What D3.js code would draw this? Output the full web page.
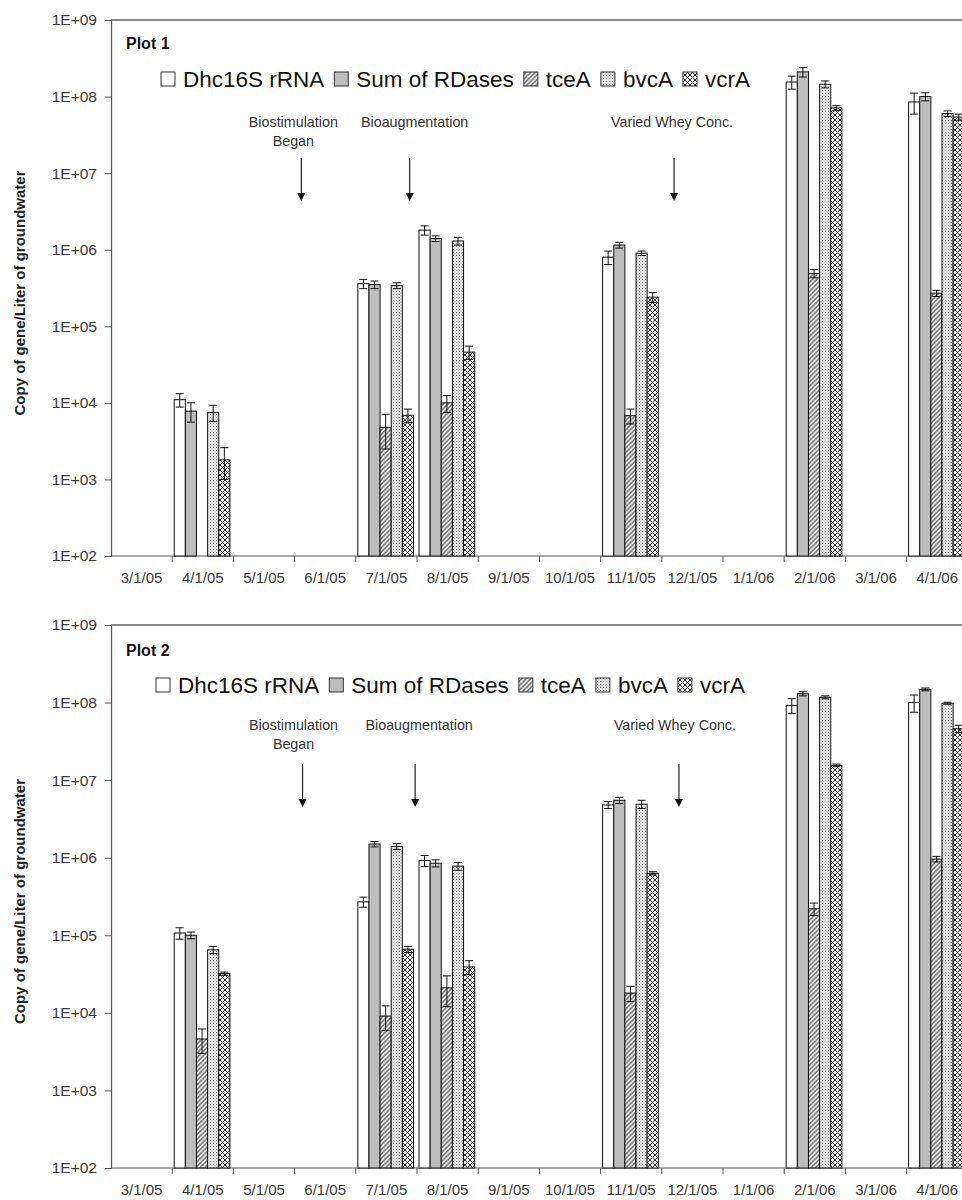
<!DOCTYPE html>
<html>
<head>
<meta charset="utf-8">
<script src="https://cdn.jsdelivr.net/npm/d3@7"></script>
<style>
  body { margin: 0; background: #fff; }
  svg { display: block; font-family: "Liberation Sans", Arial, sans-serif; }
</style>
</head>
<body>
<div id="chart"></div>
<script>
// Data
const months = ['3/1/05', '4/1/05', '5/1/05', '6/1/05', '7/1/05', '8/1/05', '9/1/05',
  '10/1/05', '11/1/05', '12/1/05', '1/1/06', '2/1/06', '3/1/06', '4/1/06']
const sampleDates = ['4/1/05', '7/1/05', '8/1/05', '11/1/05', '2/1/06', '4/1/06']
const seriesNames = ['Dhc16S rRNA', 'Sum of RDases', 'tceA', 'bvcA', 'vcrA']
const yTicks = [1e2, 1e3, 1e4, 1e5, 1e6, 1e7, 1e8, 1e9]

// plot 1
const p1Dhc = [1.1e4, 3.6e5, 1.8e6, 8.0e5, 1.55e8, 8.5e7]
const p1DhcErr = [2.2e3, 5e4, 2.5e5, 1.6e5, 3e7, 2.6e7]
const p1Sum = [7.8e3, 3.5e5, 1.4e6, 1.15e6, 2.1e8, 1.0e8]
const p1SumErr = [2.2e3, 4e4, 1.2e5, 1e5, 3e7, 1.2e7]
const p1Tce = [null, 4.8e3, 1.0e4, 6.8e3, 4.9e5, 2.7e5]
const p1TceErr = [null, 2.3e3, 2.5e3, 1.5e3, 6e4, 2.5e4]
const p1Bvc = [7.5e3, 3.4e5, 1.3e6, 9.0e5, 1.45e8, 6.0e7]
const p1BvcErr = [1.8e3, 3e4, 1.5e5, 6e4, 1.5e7, 5e6]
const p1Vcr = [1.8e3, 6.9e3, 4.6e4, 2.4e5, 7.1e7, 5.4e7]
const p1VcrErr = [8e2, 1.4e3, 9e3, 3.5e4, 5e6, 5e6]

// plot 2
const p2Dhc = [1.07e5, 2.7e5, 9.2e5, 4.8e6, 9.2e7, 1.0e8]
const p2DhcErr = [1.8e4, 4e4, 1.5e5, 5e5, 2e7, 2.5e7]
const p2Sum = [1.0e5, 1.5e6, 8.5e5, 5.5e6, 1.3e8, 1.48e8]
const p2SumErr = [1e4, 1.2e5, 9e4, 5e5, 8e6, 6e6]
const p2Tce = [4.6e3, 9.1e3, 2.1e4, 1.8e4, 2.2e5, 9.6e5]
const p2TceErr = [1.6e3, 3.2e3, 9e3, 4e3, 4e4, 8e4]
const p2Bvc = [6.5e4, 1.4e6, 7.8e5, 4.9e6, 1.17e8, 9.8e7]
const p2BvcErr = [7e3, 1.2e5, 9e4, 6e5, 5e6, 3e6]
const p2Vcr = [3.2e4, 6.6e4, 3.9e4, 6.3e5, 1.55e7, 4.6e7]
const p2VcrErr = [1.5e3, 6e3, 8e3, 3e4, 6e5, 5e6]

// annotations: month band and fraction of the month where the arrow points
const p1Notes = [
  { lines: ['Biostimulation', 'Began'], month: '6/1/05', frac: 0.11 },
  { lines: ['Bioaugmentation'], month: '7/1/05', frac: 0.88 },
  { lines: ['Varied Whey Conc.'], month: '12/1/05', frac: 0.2 }
]
const p2Notes = [
  { lines: ['Biostimulation', 'Began'], month: '6/1/05', frac: 0.13 },
  { lines: ['Bioaugmentation'], month: '7/1/05', frac: 0.97 },
  { lines: ['Varied Whey Conc.'], month: '12/1/05', frac: 0.28 }
]

const plots = [
  { title: 'Plot 1', values: [p1Dhc, p1Sum, p1Tce, p1Bvc, p1Vcr],
    errors: [p1DhcErr, p1SumErr, p1TceErr, p1BvcErr, p1VcrErr], notes: p1Notes },
  { title: 'Plot 2', values: [p2Dhc, p2Sum, p2Tce, p2Bvc, p2Vcr],
    errors: [p2DhcErr, p2SumErr, p2TceErr, p2BvcErr, p2VcrErr], notes: p2Notes }
]

// Dimensions
const width = 962
const height = 1200
const panels = [
  { top: 20, bottom: 556, titleY: 49, legendX: 161, legendY: 79, noteY: 127, arrowTop: 158, arrowBottom: 201, noteShift: [-8, 5, -2] },
  { top: 625, bottom: 1168, titleY: 656, legendX: 156, legendY: 685, noteY: 730, arrowTop: 764, arrowBottom: 807, noteShift: [-9, 4, -4] }
]
const left = 111
const bandW = 61.2

const svg = d3.select('#chart')
  .append('svg')
  .attr('width', width)
  .attr('height', height)

// patterns
const defs = svg.append('defs')

const hatch = defs.append('pattern')
  .attr('id', 'hatch')
  .attr('patternUnits', 'userSpaceOnUse')
  .attr('width', 3.2).attr('height', 3.2)
  .attr('patternTransform', 'rotate(45)')
hatch.append('rect').attr('width', 3.2).attr('height', 3.2).attr('fill', '#e6e6e6')
hatch.append('line').attr('x1', 0.8).attr('x2', 0.8).attr('y1', 0).attr('y2', 3.2)
  .attr('stroke', '#444').attr('stroke-width', 1)

const dots = defs.append('pattern')
  .attr('id', 'dots')
  .attr('patternUnits', 'userSpaceOnUse')
  .attr('width', 3).attr('height', 3)
dots.append('rect').attr('width', 3).attr('height', 3).attr('fill', '#f4f4f4')
dots.append('rect').attr('x', 0).attr('y', 0).attr('width', 1).attr('height', 1).attr('fill', '#6a6a6a')
dots.append('rect').attr('x', 1.5).attr('y', 1.5).attr('width', 1).attr('height', 1).attr('fill', '#8a8a8a')

const cross = defs.append('pattern')
  .attr('id', 'cross')
  .attr('patternUnits', 'userSpaceOnUse')
  .attr('width', 5).attr('height', 5)
cross.append('rect').attr('width', 5).attr('height', 5).attr('fill', '#fff')
cross.append('path').attr('d', 'M0,0L5,5M5,0L0,5')
  .attr('stroke', '#2a2a2a').attr('stroke-width', 1)

const fills = ['#ffffff', '#bdbdbd', 'url(#hatch)', 'url(#dots)', 'url(#cross)']

// scales shared along x
const xScale = d3.scaleBand()
  .domain(months)
  .range([left, left + bandW * months.length])
  .paddingInner(0)
  .paddingOuter(0)

const xSub = d3.scaleBand()
  .domain(seriesNames)
  .range([2, bandW - 3.5])

plots.forEach((plot, pi) => {
  const pn = panels[pi]
  const g = svg.append('g')

  const yScale = d3.scaleLog()
    .domain([1e2, 1e9])
    .range([pn.bottom, pn.top])

  // top border
  g.append('line')
    .attr('x1', left).attr('x2', width)
    .attr('y1', pn.top).attr('y2', pn.top)
    .attr('stroke', '#8a8a8a').attr('stroke-width', 2)

  // y axis
  const yAxis = g.append('g')
    .attr('transform', `translate(${left},0)`)
    .call(d3.axisLeft(yScale)
      .tickValues(yTicks)
      .tickFormat(d => '1E+0' + Math.round(Math.log10(d)))
      .tickSize(6)
      .tickPadding(8))
  yAxis.select('.domain').attr('stroke', '#555').attr('stroke-width', 1.2)
  yAxis.selectAll('.tick line').attr('stroke', '#555')
  yAxis.selectAll('.tick text')
    .attr('font-size', 15.5).attr('fill', '#3a3a3a')
    .style('font-family', '"Liberation Sans", Arial, sans-serif')

  // x axis
  g.append('line')
    .attr('x1', left).attr('x2', width)
    .attr('y1', pn.bottom).attr('y2', pn.bottom)
    .attr('stroke', '#555').attr('stroke-width', 1.2)

  g.selectAll('.xtick')
    .data(months.slice(1))
    .join('line')
    .attr('class', 'xtick')
    .attr('x1', d => xScale(d)).attr('x2', d => xScale(d))
    .attr('y1', pn.bottom).attr('y2', pn.bottom + 6)
    .attr('stroke', '#555')

  g.selectAll('.xlabel')
    .data(months)
    .join('text')
    .attr('class', 'xlabel')
    .attr('x', d => xScale(d) + xScale.bandwidth() / 2)
    .attr('y', pn.bottom + 27)
    .attr('text-anchor', 'middle')
    .attr('font-size', 15)
    .attr('fill', '#3a3a3a')
    .text(d => d)

  // y title
  g.append('text')
    .attr('transform', `translate(25,${(pn.top + pn.bottom) / 2 + 5}) rotate(-90)`)
    .attr('text-anchor', 'middle')
    .attr('font-size', 15)
    .attr('font-weight', 'bold')
    .attr('fill', '#222')
    .text('Copy of gene/Liter of groundwater')

  // plot title
  g.append('text')
    .attr('x', 126).attr('y', pn.titleY)
    .attr('font-size', 16).attr('font-weight', 'bold')
    .attr('fill', '#111')
    .text(plot.title)

  // bars
  const barData = []
  plot.values.forEach((vals, si) => {
    vals.forEach((v, di) => {
      if (v == null) return
      barData.push({ series: seriesNames[si], si, date: sampleDates[di], v, e: plot.errors[si][di] })
    })
  })

  g.selectAll('.bar')
    .data(barData)
    .join('rect')
    .attr('class', 'bar')
    .attr('x', d => xScale(d.date) + xSub(d.series))
    .attr('width', xSub.bandwidth())
    .attr('y', d => yScale(d.v))
    .attr('height', d => pn.bottom - yScale(d.v))
    .attr('fill', d => fills[d.si])
    .attr('stroke', '#111')
    .attr('stroke-width', 1)

  // error bars
  const errG = g.selectAll('.err')
    .data(barData.filter(d => d.e))
    .join('g')
    .attr('class', 'err')
    .attr('stroke', '#111')
    .attr('stroke-width', 1)
  const cx = d => xScale(d.date) + xSub(d.series) + xSub.bandwidth() / 2
  errG.append('line')
    .attr('x1', cx).attr('x2', cx)
    .attr('y1', d => yScale(d.v + d.e))
    .attr('y2', d => yScale(Math.max(d.v - d.e, 1e2)))
  errG.append('line')
    .attr('x1', d => cx(d) - 4).attr('x2', d => cx(d) + 4)
    .attr('y1', d => yScale(d.v + d.e)).attr('y2', d => yScale(d.v + d.e))
  errG.append('line')
    .attr('x1', d => cx(d) - 4).attr('x2', d => cx(d) + 4)
    .attr('y1', d => yScale(Math.max(d.v - d.e, 1e2))).attr('y2', d => yScale(Math.max(d.v - d.e, 1e2)))

  // legend
  const leg = g.append('g')
  let lx = pn.legendX
  seriesNames.forEach((name, si) => {
    leg.append('rect')
      .attr('x', lx).attr('y', pn.legendY - 7)
      .attr('width', 14).attr('height', 14)
      .attr('fill', fills[si])
      .attr('stroke', '#333')
    const t = leg.append('text')
      .attr('x', lx + 22).attr('y', pn.legendY + 8)
      .attr('font-size', 22.5)
      .attr('fill', '#111')
      .text(name)
    lx += 22 + t.node().getComputedTextLength() + 10
  })

  // annotations
  plot.notes.forEach((n, ni) => {
    const ax = xScale(n.month) + n.frac * xScale.bandwidth()
    n.lines.forEach((line, li) => {
      g.append('text')
        .attr('x', ax + pn.noteShift[ni])
        .attr('y', pn.noteY + li * 19)
        .attr('text-anchor', 'middle')
        .attr('font-size', 14.3)
        .attr('fill', '#333')
        .text(line)
    })
    g.append('line')
      .attr('x1', ax).attr('x2', ax)
      .attr('y1', pn.arrowTop).attr('y2', pn.arrowBottom - 6)
      .attr('stroke', '#222').attr('stroke-width', 1.2)
    g.append('path')
      .attr('d', `M${ax - 4},${pn.arrowBottom - 8}L${ax + 4},${pn.arrowBottom - 8}L${ax},${pn.arrowBottom}Z`)
      .attr('fill', '#111')
  })
})
</script>
</body>
</html>
